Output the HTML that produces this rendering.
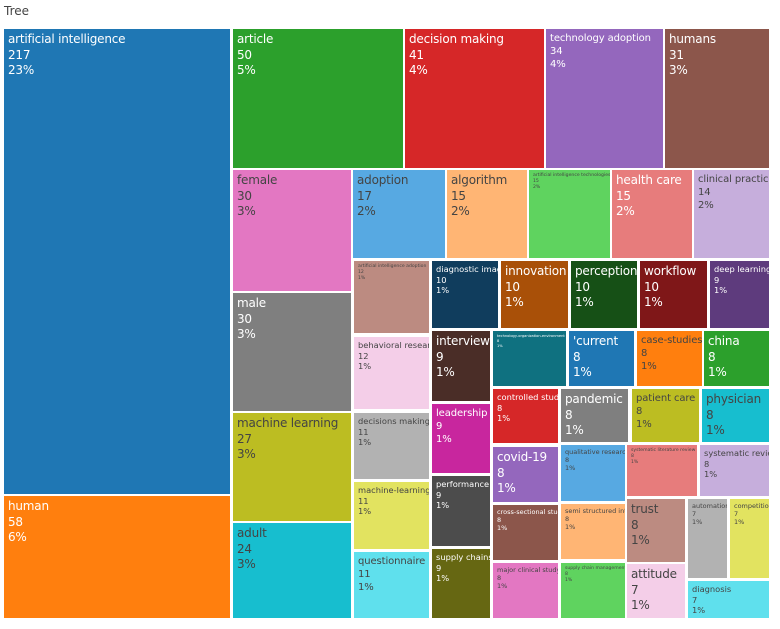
<!DOCTYPE html>
<html><head><meta charset="utf-8"><style>
body{margin:0;width:780px;height:629px;background:#fff;position:relative;overflow:hidden;font-family:"DejaVu Sans","Liberation Sans",sans-serif;}
.t{position:absolute;left:4px;top:4px;font-size:12px;color:#444;}
div.b{position:absolute;box-sizing:border-box;overflow:hidden;padding:3px 4px;white-space:nowrap;}
.L{font-size:12px;line-height:15.5px;letter-spacing:-0.2px;}
.K{font-size:10px;line-height:13px;letter-spacing:-0.1px;}
.M{font-size:8.3px;line-height:10.5px;}
.S{font-size:6.5px;line-height:8px;}
.T{font-size:4.6px;line-height:6px;}
.X{font-size:3.6px;line-height:5px;}
.w{color:#fff}.d{color:#444}
</style></head><body>
<div class="t">Tree</div>
<div class="b L w" style="left:4px;top:29px;width:226px;height:465px;background:#1f77b4">artificial intelligence<br>217<br>23%</div>
<div class="b L w" style="left:4px;top:496px;width:226px;height:122px;background:#ff7f0e">human<br>58<br>6%</div>
<div class="b L w" style="left:233px;top:29px;width:170px;height:139px;background:#2ca02c">article<br>50<br>5%</div>
<div class="b L w" style="left:405px;top:29px;width:139px;height:139px;background:#d62728">decision making<br>41<br>4%</div>
<div class="b K w" style="left:546px;top:29px;width:117px;height:139px;background:#9467bd">technology adoption<br>34<br>4%</div>
<div class="b L w" style="left:665px;top:29px;width:104px;height:139px;background:#8c564b">humans<br>31<br>3%</div>
<div class="b L d" style="left:233px;top:170px;width:118px;height:121px;background:#e377c2">female<br>30<br>3%</div>
<div class="b L w" style="left:233px;top:293px;width:118px;height:118px;background:#7f7f7f">male<br>30<br>3%</div>
<div class="b L d" style="left:233px;top:413px;width:118px;height:108px;background:#bcbd22">machine learning<br>27<br>3%</div>
<div class="b L d" style="left:233px;top:523px;width:118px;height:95px;background:#17becf">adult<br>24<br>3%</div>
<div class="b L d" style="left:353px;top:170px;width:92px;height:88px;background:#57a9e2">adoption<br>17<br>2%</div>
<div class="b L d" style="left:447px;top:170px;width:80px;height:88px;background:#ffb574">algorithm<br>15<br>2%</div>
<div class="b T d" style="left:529px;top:170px;width:81px;height:88px;background:#5fd35f">artificial intelligence technologies<br>15<br>2%</div>
<div class="b L w" style="left:612px;top:170px;width:80px;height:88px;background:#e77c7c">health care<br>15<br>2%</div>
<div class="b K d" style="left:694px;top:170px;width:75px;height:88px;background:#c6aedc">clinical practice<br>14<br>2%</div>
<div class="b T d" style="left:354px;top:261px;width:75px;height:72px;background:#bc8b81">artificial intelligence adoption<br>12<br>1%</div>
<div class="b M w" style="left:432px;top:261px;width:66px;height:67px;background:#103d5d">diagnostic imaging<br>10<br>1%</div>
<div class="b L w" style="left:501px;top:261px;width:67px;height:67px;background:#a95008">innovation<br>10<br>1%</div>
<div class="b L w" style="left:571px;top:261px;width:66px;height:67px;background:#165016">perception<br>10<br>1%</div>
<div class="b L w" style="left:640px;top:261px;width:67px;height:67px;background:#7f1718">workflow<br>10<br>1%</div>
<div class="b M w" style="left:710px;top:261px;width:59px;height:67px;background:#5e3b7d">deep learning<br>9<br>1%</div>
<div class="b M d" style="left:354px;top:337px;width:75px;height:72px;background:#f4cee8">behavioral research<br>12<br>1%</div>
<div class="b M d" style="left:354px;top:413px;width:75px;height:66px;background:#b2b2b2">decisions makings<br>11<br>1%</div>
<div class="b M d" style="left:354px;top:482px;width:75px;height:67px;background:#e2e360">machine-learning<br>11<br>1%</div>
<div class="b K d" style="left:354px;top:552px;width:75px;height:66px;background:#5fe0ed">questionnaire<br>11<br>1%</div>
<div class="b L w" style="left:432px;top:331px;width:58px;height:70px;background:#4a2d27">interview<br>9<br>1%</div>
<div class="b K w" style="left:432px;top:404px;width:58px;height:69px;background:#c8269e">leadership<br>9<br>1%</div>
<div class="b M w" style="left:432px;top:476px;width:58px;height:70px;background:#4c4c4c">performance<br>9<br>1%</div>
<div class="b M w" style="left:432px;top:549px;width:58px;height:69px;background:#666712">supply chains<br>9<br>1%</div>
<div class="b X w" style="left:493px;top:331px;width:73px;height:55px;background:#0f7180">technology-organization-environment framework<br>8<br>1%</div>
<div class="b L w" style="left:569px;top:331px;width:65px;height:55px;background:#1f77b4">'current<br>8<br>1%</div>
<div class="b K d" style="left:637px;top:331px;width:65px;height:55px;background:#ff7f0e">case-studies<br>8<br>1%</div>
<div class="b L w" style="left:704px;top:331px;width:65px;height:55px;background:#2ca02c">china<br>8<br>1%</div>
<div class="b M w" style="left:493px;top:389px;width:65px;height:54px;background:#d62728">controlled study<br>8<br>1%</div>
<div class="b L w" style="left:561px;top:389px;width:67px;height:53px;background:#7f7f7f">pandemic<br>8<br>1%</div>
<div class="b K d" style="left:632px;top:389px;width:67px;height:53px;background:#bcbd22">patient care<br>8<br>1%</div>
<div class="b L d" style="left:702px;top:389px;width:67px;height:53px;background:#17becf">physician<br>8<br>1%</div>
<div class="b L w" style="left:493px;top:447px;width:65px;height:55px;background:#9467bd">covid-19<br>8<br>1%</div>
<div class="b S d" style="left:561px;top:445px;width:64px;height:56px;background:#57a9e2">qualitative research<br>8<br>1%</div>
<div class="b T d" style="left:627px;top:445px;width:70px;height:51px;background:#e77c7c">systematic literature review<br>8<br>1%</div>
<div class="b M d" style="left:700px;top:445px;width:69px;height:51px;background:#c6aedc">systematic review<br>8<br>1%</div>
<div class="b S w" style="left:493px;top:505px;width:65px;height:55px;background:#8c564b">cross-sectional study<br>8<br>1%</div>
<div class="b S d" style="left:561px;top:504px;width:64px;height:55px;background:#ffb574">semi structured interview<br>8<br>1%</div>
<div class="b L d" style="left:627px;top:499px;width:58px;height:63px;background:#bc8b81">trust<br>8<br>1%</div>
<div class="b S d" style="left:688px;top:499px;width:39px;height:79px;background:#b2b2b2">automation<br>7<br>1%</div>
<div class="b S d" style="left:730px;top:499px;width:39px;height:79px;background:#e2e360">competition<br>7<br>1%</div>
<div class="b S d" style="left:493px;top:563px;width:65px;height:55px;background:#e377c2">major clinical study<br>8<br>1%</div>
<div class="b T d" style="left:561px;top:563px;width:64px;height:55px;background:#5fd35f">supply chain management<br>8<br>1%</div>
<div class="b L d" style="left:627px;top:564px;width:58px;height:54px;background:#f4cee8">attitude<br>7<br>1%</div>
<div class="b M d" style="left:688px;top:581px;width:81px;height:37px;background:#5fe0ed">diagnosis<br>7<br>1%</div>
</body></html>
